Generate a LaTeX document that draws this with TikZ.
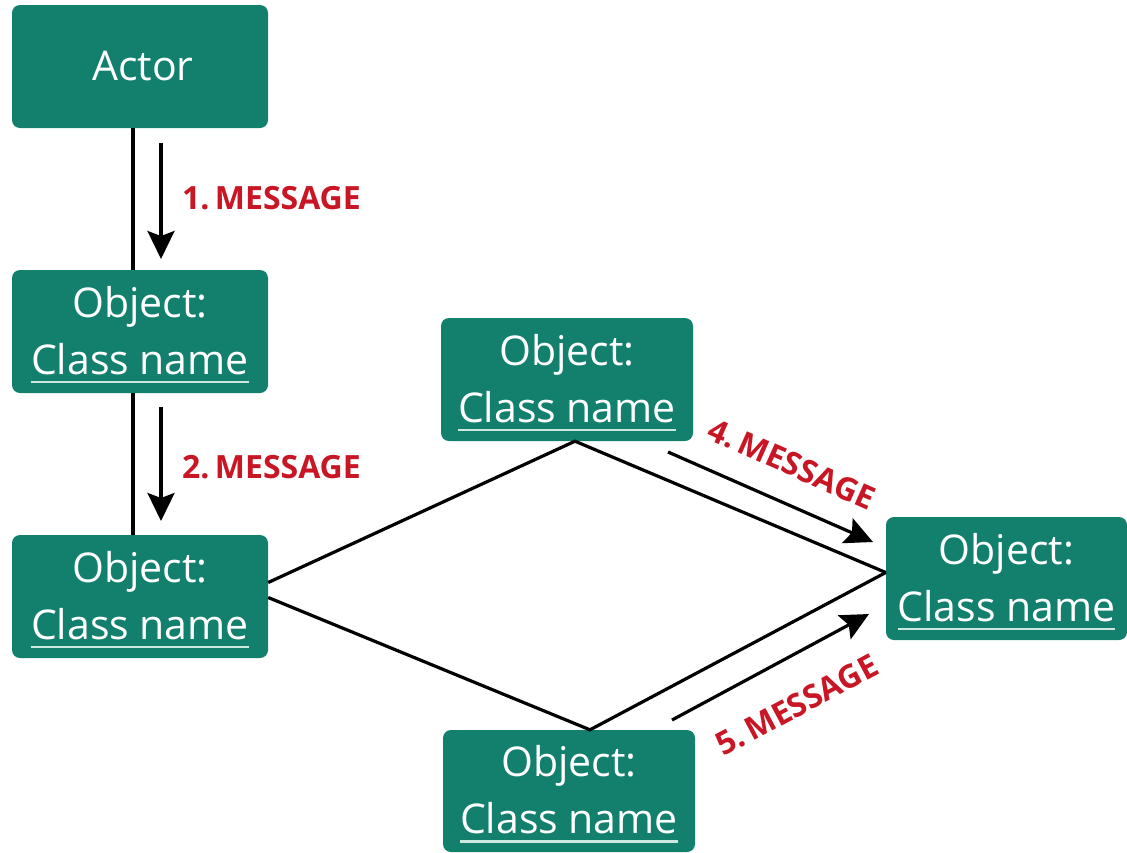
\documentclass[tikz,border=0pt]{standalone}
\usepackage{fontspec}
\setmainfont{Open Sans}
\usetikzlibrary{arrows.meta,calc}
\definecolor{boxteal}{RGB}{18,128,108}
\definecolor{msgred}{RGB}{200,22,36}
\definecolor{ulcol}{RGB}{205,232,222}
\newcommand\clsname{{\setbox0\hbox{Class name}\rlap{\color{ulcol}\rule[-9pt]{\wd0}{2.2pt}}\box0}}
\begin{document}
\begin{tikzpicture}[x=1pt,y=-1pt,
  objbox/.style={draw=none,fill=boxteal,rounded corners=8pt,minimum width=256pt,minimum height=123pt,
    inner sep=0pt,align=center,text=white,font=\fontsize{41}{57}\selectfont},
  boxtext/.style={inner sep=0pt,align=center,text=white,font=\fontsize{41}{57}\selectfont},
  conn/.style={line width=3.2pt,black},
  msgarrow/.style={line width=3.2pt,black,-{Stealth[length=28pt,width=27pt,inset=5pt]}},
  msglabel/.style={text=msgred,font=\fontsize{32}{36}\selectfont\bfseries,inner sep=0pt}]
\useasboundingbox (0,0) rectangle (1127,852);
\node[objbox] (actor) at (140,66.5) {};
\node[objbox] (o1) at (140,331.5) {};
\node[objbox] (o2) at (140,596.5) {};
\node[objbox,minimum width=252pt] (o3) at (567,379.5) {};
\node[objbox,minimum width=241pt] (o4) at (1006.5,578.5) {};
\node[objbox,minimum width=252pt,minimum height=122pt] (o5) at (569,791) {};
\node[boxtext] (t0) at ($(actor.center)+(3,0)$) {Actor};
\node[boxtext] (t1) at ($(o1.center)+(0,3)$) {Object:\\\clsname};
\node[boxtext] (t2) at ($(o2.center)+(0,3)$) {Object:\\\clsname};
\node[boxtext] (t3) at ($(o3.center)+(0,3)$) {Object:\\\clsname};
\node[boxtext] (t4) at ($(o4.center)+(0,3)$) {Object:\\\clsname};
\node[boxtext] (t5) at ($(o5.center)+(0,3)$) {Object:\\\clsname};
% vertical links
\draw[conn] ($(actor.south)+(-7,0)$) -- ($(o1.north)+(-7,0)$);
\draw[conn] ($(o1.south)+(-7,0)$) -- ($(o2.north)+(-7,0)$);
% diamond links
\draw[conn] ($(o2.east)+(0,-14)$) -- ($(o3.south)+(8,0)$) -- ($(o4.west)+(0,-6)$);
\draw[conn] ($(o2.east)+(0,1)$) -- ($(o5.north)+(21,0)$) -- ($(o4.west)+(0,-6)$);
% message arrows
\coordinate (a1s) at (161,143); \coordinate (a1e) at (161,259);
\coordinate (a2s) at (161,407); \coordinate (a2e) at (161,521);
\coordinate (a4s) at (668,452); \coordinate (a4e) at (873,542);
\coordinate (a5s) at (672,720); \coordinate (a5e) at (869,614);
\draw[msgarrow] (a1s) -- (a1e);
\draw[msgarrow] (a2s) -- (a2e);
\draw[msgarrow] (a4s) -- (a4e);
\draw[msgarrow] (a5s) -- (a5e);
\node[msglabel,anchor=west] (l1) at (182,198) {1.\,MESSAGE};
\node[msglabel,anchor=west] (l2) at (182,467) {2.\,MESSAGE};
\node[msglabel,rotate=-24] (l4) at (792,464) {4.\,MESSAGE};
\node[msglabel,rotate=28] (l5) at (797,705) {5.\,MESSAGE};
\end{tikzpicture}
\end{document}
